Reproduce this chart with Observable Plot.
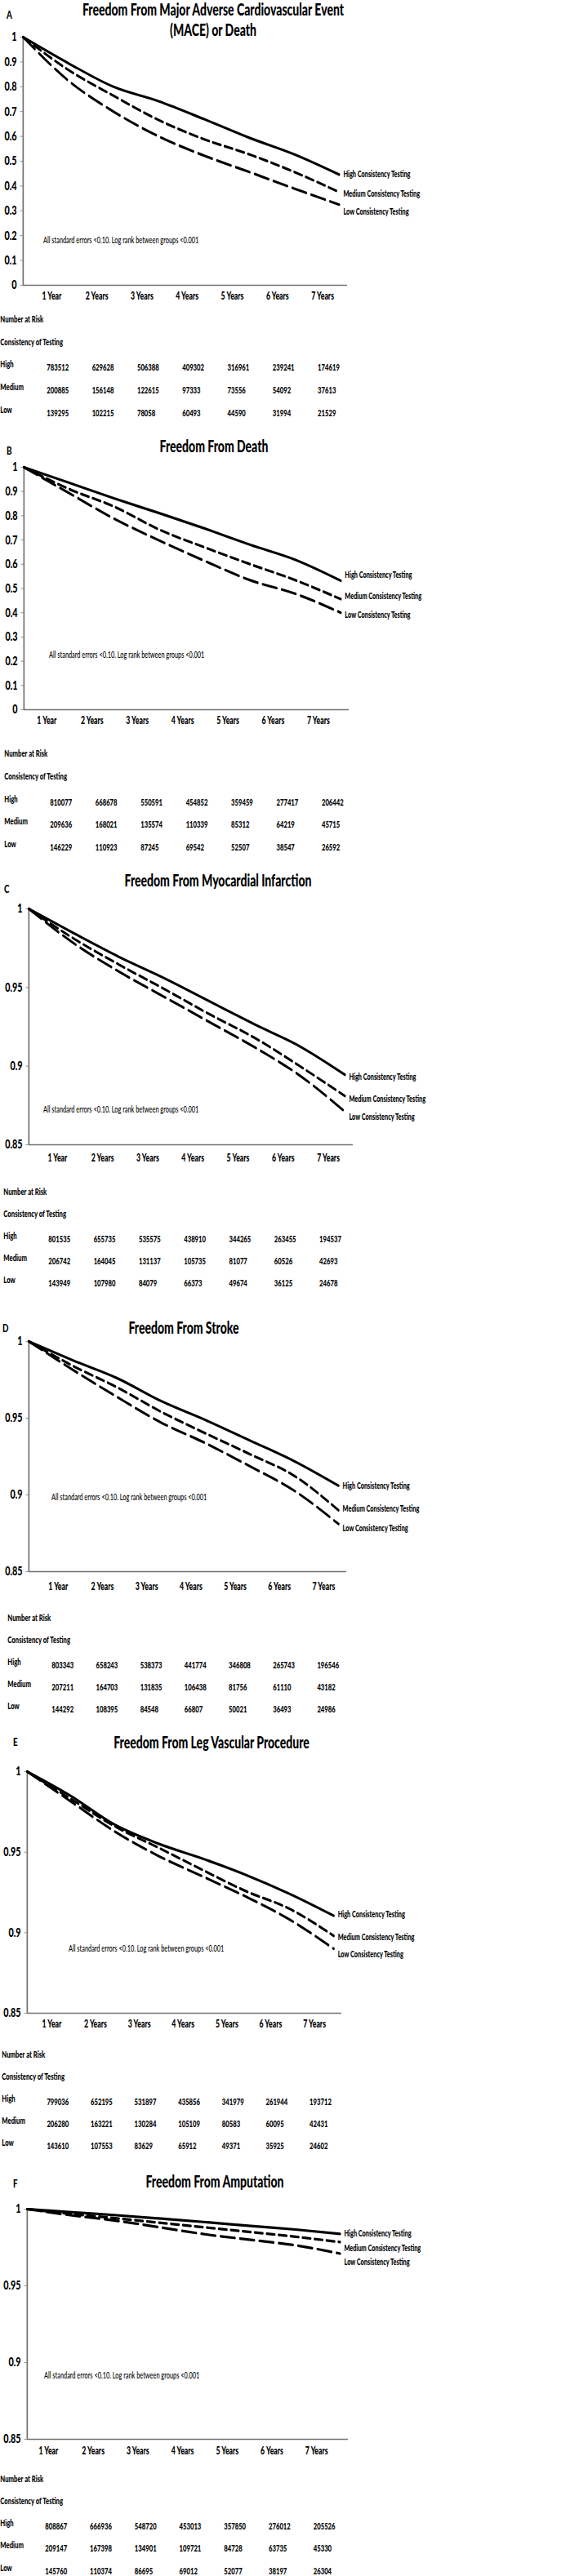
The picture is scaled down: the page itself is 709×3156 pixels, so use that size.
<!DOCTYPE html>
<html><head><meta charset="utf-8">
<script src="https://cdn.jsdelivr.net/npm/d3@7"></script>
<script src="https://cdn.jsdelivr.net/npm/@observablehq/plot@0.6"></script>
<style>
html,body{margin:0;padding:0;background:#fff;overflow:hidden;}
#fig{position:relative;height:3156px;transform-origin:0 0;font-family:Lato,"Open Sans",sans-serif;color:#000;}
.abs{position:absolute;white-space:nowrap;line-height:1;}
#fig svg{position:absolute;left:0;overflow:visible;}
</style></head><body><div id="fig"></div>
<script>
// ---------- data ----------
const years = [0, 1, 2, 3, 4, 5, 6, 7];
const xLabels = ["1 Year", "2 Years", "3 Years", "4 Years", "5 Years", "6 Years", "7 Years"];
const groups = ["High", "Medium", "Low"];
const curveLabels = ["High Consistency Testing", "Medium Consistency Testing", "Low Consistency Testing"];
const yTicksFull = [0, 0.1, 0.2, 0.3, 0.4, 0.5, 0.6, 0.7, 0.8, 0.9, 1];
const yTicksZoom = [0.85, 0.9, 0.95, 1];
const note = "All standard errors <0.10.  Log rank between groups <0.001";

const maceHigh   = [1, 0.895, 0.80, 0.742, 0.67, 0.595, 0.528, 0.446];
const maceMedium = [1, 0.868, 0.764, 0.666, 0.589, 0.528, 0.457, 0.375];
const maceLow    = [1, 0.825, 0.70, 0.60, 0.523, 0.457, 0.39, 0.325];
const deathHigh   = [1, 0.936, 0.871, 0.81, 0.747, 0.68, 0.618, 0.532];
const deathMedium = [1, 0.91, 0.837, 0.742, 0.669, 0.60, 0.534, 0.456];
const deathLow    = [1, 0.893, 0.787, 0.697, 0.613, 0.534, 0.478, 0.40];
const miHigh   = [1, 0.9844, 0.9694, 0.9559, 0.9412, 0.9265, 0.9126, 0.8945];
const miMedium = [1, 0.981, 0.9645, 0.949, 0.933, 0.918, 0.90, 0.881];
const miLow    = [1, 0.978, 0.960, 0.944, 0.928, 0.912, 0.894, 0.871];
const strokeHigh   = [1, 0.9876, 0.976, 0.961, 0.9487, 0.9354, 0.922, 0.906];
const strokeMedium = [1, 0.984, 0.970, 0.954, 0.940, 0.9265, 0.9124, 0.890];
const strokeLow    = [1, 0.9814, 0.9637, 0.947, 0.9336, 0.9186, 0.9027, 0.881];
const legHigh   = [1, 0.9848, 0.967, 0.9552, 0.946, 0.9358, 0.924, 0.9105];
const legMedium = [1, 0.983, 0.966, 0.9527, 0.939, 0.9257, 0.9147, 0.898];
const legLow    = [1, 0.9814, 0.9628, 0.9476, 0.935, 0.9223, 0.908, 0.890];
const ampHigh   = [1, 0.998, 0.996, 0.9938, 0.9915, 0.989, 0.9867, 0.9838];
const ampMedium = [1, 0.9968, 0.994, 0.991, 0.988, 0.985, 0.982, 0.9785];
const ampLow    = [1, 0.9959, 0.9924, 0.988, 0.9835, 0.980, 0.9764, 0.971];

const maceRiskHigh   = [783512, 629628, 506388, 409302, 316961, 239241, 174619];
const maceRiskMedium = [200885, 156148, 122615, 97333, 73556, 54092, 37613];
const maceRiskLow    = [139295, 102215, 78058, 60493, 44590, 31994, 21529];
const deathRiskHigh   = [810077, 668678, 550591, 454852, 359459, 277417, 206442];
const deathRiskMedium = [209636, 168021, 135574, 110339, 85312, 64219, 45715];
const deathRiskLow    = [146229, 110923, 87245, 69542, 52507, 38547, 26592];
const miRiskHigh   = [801535, 655735, 535575, 438910, 344265, 263455, 194537];
const miRiskMedium = [206742, 164045, 131137, 105735, 81077, 60526, 42693];
const miRiskLow    = [143949, 107980, 84079, 66373, 49674, 36125, 24678];
const strokeRiskHigh   = [803343, 658243, 538373, 441774, 346808, 265743, 196546];
const strokeRiskMedium = [207211, 164703, 131835, 106438, 81756, 61110, 43182];
const strokeRiskLow    = [144292, 108395, 84548, 66807, 50021, 36493, 24986];
const legRiskHigh   = [799036, 652195, 531897, 435856, 341979, 261944, 193712];
const legRiskMedium = [206280, 163221, 130284, 105109, 80583, 60095, 42431];
const legRiskLow    = [143610, 107553, 83629, 65912, 49371, 35925, 24602];
const ampRiskHigh   = [808867, 666936, 548720, 453013, 357850, 276012, 205526];
const ampRiskMedium = [209147, 167398, 134901, 109721, 84728, 63735, 45330];
const ampRiskLow    = [145760, 110374, 86695, 69012, 52077, 38197, 26304];

// ---------- panels (data + layout) ----------
const panels = [
  {letter:"A", title:["Freedom From Major Adverse Cardiovascular Event", "(MACE) or Death"],
   series:[maceHigh, maceMedium, maceLow], risk:[maceRiskHigh, maceRiskMedium, maceRiskLow], ticks:yTicksFull,
   L:{titleX:261, titleY:[12,37], letterX:8, letterY:19, x0:28, x1:425, yTop:45, yBot:349, xLabelY:365, firstLabelX:63, xShift:0.367,
      labelDy:[0,2,9], noteX:53, noteY:295, tableX:0, rowY:[395,423,450,478,506], colX0:57}},
  {letter:"B", title:["Freedom From Death"],
   series:[deathHigh, deathMedium, deathLow], risk:[deathRiskHigh, deathRiskMedium, deathRiskLow], ticks:yTicksFull,
   L:{titleX:262, titleY:[547], letterX:8, letterY:553, x0:29, x1:427, yTop:572, yBot:869, xLabelY:885, firstLabelX:57, xShift:0.495,
      labelDy:[-7,-3,3], noteX:60, noteY:803, tableX:5, rowY:[927,955,983,1010,1038], colX0:61}},
  {letter:"C", title:["Freedom From Myocardial Infarction"],
   series:[miHigh, miMedium, miLow], risk:[miRiskHigh, miRiskMedium, miRiskLow], ticks:yTicksZoom,
   L:{titleX:267, titleY:[1079], letterX:5, letterY:1090, x0:35, x1:432, yTop:1113, yBot:1402, xLabelY:1421, firstLabelX:70, xShift:0.367,
      labelDy:[3,4,7], noteX:53, noteY:1360, tableX:4, rowY:[1464,1491,1518,1545,1572], colX0:59}},
  {letter:"D", title:["Freedom From Stroke"],
   series:[strokeHigh, strokeMedium, strokeLow], risk:[strokeRiskHigh, strokeRiskMedium, strokeRiskLow], ticks:yTicksZoom,
   L:{titleX:225, titleY:[1627], letterX:3, letterY:1628, x0:35, x1:424, yTop:1643, yBot:1925, xLabelY:1946, firstLabelX:71, xShift:0.336,
      labelDy:[0,-2,5], noteX:63, noteY:1835, tableX:9, rowY:[1986,2013,2040,2067,2094], colX0:63}},
  {letter:"E", title:["Freedom From Leg Vascular Procedure"],
   series:[legHigh, legMedium, legLow], risk:[legRiskHigh, legRiskMedium, legRiskLow], ticks:yTicksZoom,
   L:{titleX:259, titleY:[2135], letterX:16, letterY:2135, x0:33, x1:418, yTop:2170, yBot:2466, xLabelY:2482, firstLabelX:63, xShift:0.44,
      labelDy:[-1,2,7], noteX:84, noteY:2388, tableX:2, rowY:[2521,2548,2575,2602,2629], colX0:57}},
  {letter:"F", title:["Freedom From Amputation"],
   series:[ampHigh, ampMedium, ampLow], risk:[ampRiskHigh, ampRiskMedium, ampRiskLow], ticks:yTicksZoom,
   L:{titleX:263, titleY:[2673], letterX:16, letterY:2676, x0:33, x1:426, yTop:2706, yBot:2988, xLabelY:3005, firstLabelX:59, xShift:0.525,
      labelDy:[0,8,11], noteX:54, noteY:2911, tableX:0, rowY:[3041,3068,3095,3122,3150], colX0:55}}
];

// ---------- drawing ----------
const S = 0.7;                // horizontal condensing of the whole figure
const W = 709 / S;
const vx = x => x / S;
const FONT = 'Lato,"Open Sans",sans-serif';
const BOLD = 900;
const fig = document.getElementById("fig");
fig.style.width = W + "px";
fig.style.transform = `scaleX(${S})`;

function addText(txt, x, y, size, weight, center) {
  const d = document.createElement("div");
  d.className = "abs";
  d.textContent = txt;
  d.style.fontSize = size + "px";
  d.style.fontWeight = weight;
  d.style.left = vx(x) + "px";
  d.style.top = (y - size * 0.55) + "px";
  if (center) d.style.transform = "translateX(-50%)";
  fig.appendChild(d);
}

const dashes = [undefined, "14,7", "25,9"];

for (const p of panels) {
  const L = p.L;
  const ymin = p.ticks[0];
  const mt = 14;
  const tableBottom = L.rowY[4] + 10;
  const top = L.yTop - mt;
  const height = tableBottom - top;
  const mb = tableBottom - L.yBot;
  const data = groups.flatMap((g, gi) => years.map((t, i) => ({g, gi, t, v: p.series[gi][i]})));
  const lastPts = groups.map((g, gi) => ({g, gi, t: years[years.length - 1], v: p.series[gi][years.length - 1]}));
  const labelTicks = xLabels.map((_, i) => i + 1 - L.xShift);
  const colDx = vx(L.colX0 - L.firstLabelX);
  const rowDy = L.rowY.map(y => y - L.yBot);
  const tf = {textAnchor: "start", fontWeight: BOLD, fontSize: 11};

  const marks = [
    Plot.axisY({ticks: p.ticks, tickFormat: d => String(+d.toFixed(2)), tickSize: 5, tickPadding: 6, label: null,
      fontSize: 15.5, fontWeight: BOLD, stroke: "#808080", fill: "black"}),
    Plot.axisX({ticks: labelTicks, tickFormat: d => xLabels[Math.round(d + L.xShift) - 1], tickSize: 0, label: null,
      tickPadding: L.xLabelY - L.yBot - 7, fontSize: 12.5, fontWeight: BOLD}),
    Plot.ruleX([0], {stroke: "#707070", strokeWidth: 2.4}),
    Plot.ruleY([ymin], {stroke: "#707070", strokeWidth: 1.7}),
    ...groups.map((g, gi) => Plot.line(data.filter(d => d.gi === gi), {
      x: "t", y: "v", stroke: "black", strokeWidth: 3.2, strokeDasharray: dashes[gi], curve: "monotone-x"})),
    ...groups.map((g, gi) => Plot.text([lastPts[gi]], {
      x: "t", y: "v", text: () => curveLabels[gi], dx: vx(5), dy: L.labelDy[gi],
      textAnchor: "start", fontWeight: BOLD, fontSize: 10.5})),
    Plot.text(["Number at Risk"], {frameAnchor: "bottom-left", text: d => d, dx: vx(L.tableX - L.x0), dy: rowDy[0], ...tf}),
    Plot.text(["Consistency of Testing"], {frameAnchor: "bottom-left", text: d => d, dx: vx(L.tableX - L.x0), dy: rowDy[1], ...tf}),
    ...groups.map((g, gi) => Plot.text([g], {frameAnchor: "bottom-left", text: d => d, dx: vx(L.tableX - L.x0), dy: rowDy[gi + 2], ...tf})),
    ...groups.map((g, gi) => Plot.text(p.risk[gi], {
      x: (d, i) => i + 1 - L.xShift, y: () => ymin, text: d => String(d), dx: colDx, dy: rowDy[gi + 2], ...tf}))
  ];

  const svg = Plot.plot({
    width: W, height, marginLeft: vx(L.x0), marginRight: W - vx(L.x1), marginTop: mt, marginBottom: mb,
    x: {domain: [0, 7.18], label: null},
    y: {domain: [ymin, 1], label: null},
    style: {fontFamily: FONT, background: "transparent", color: "black"},
    marks
  });
  svg.style.top = top + "px";
  fig.appendChild(svg);

  p.title.forEach((t, i) => addText(t, L.titleX, L.titleY[i], 20, BOLD, true));
  addText(p.letter, L.letterX, L.letterY, 14, BOLD, false);
  addText(note, L.noteX, L.noteY, 10.5, 500, false);
}
</script></body></html>
